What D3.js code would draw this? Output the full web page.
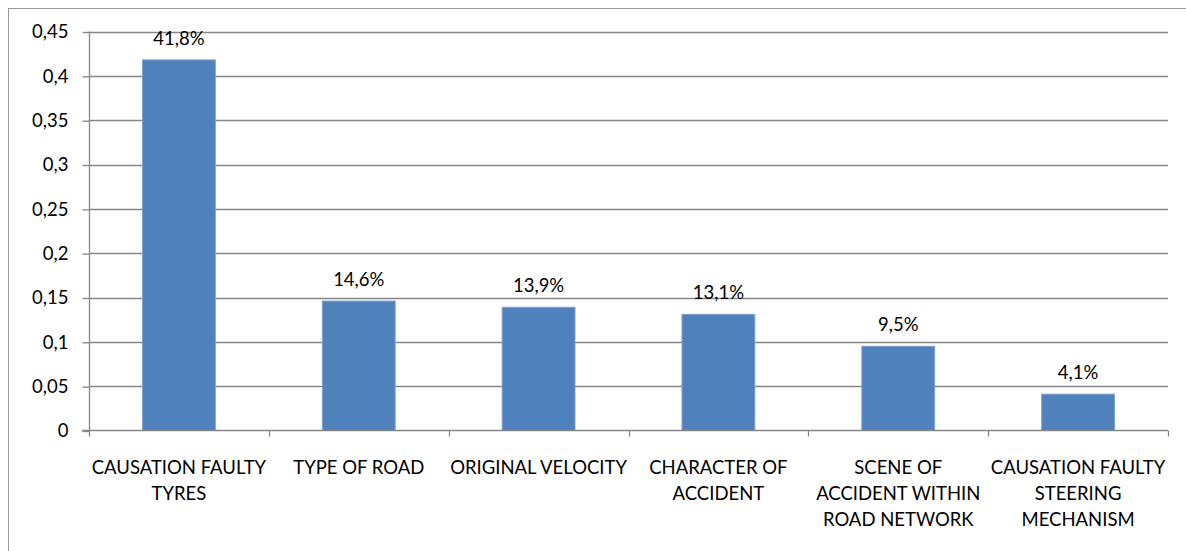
<!DOCTYPE html>
<html><head><meta charset="utf-8">
<script src="https://cdn.jsdelivr.net/npm/d3@7"></script>
<style>body{margin:0;background:#fff}svg{display:block}text{font-family:Lato,"Open Sans",sans-serif;fill:#000}</style>
</head><body><svg id="c" width="1186" height="551"></svg>
<script>
const categories = [
  ["CAUSATION FAULTY","TYRES"],
  ["TYPE OF ROAD"],
  ["ORIGINAL VELOCITY"],
  ["CHARACTER OF","ACCIDENT"],
  ["SCENE OF","ACCIDENT WITHIN","ROAD NETWORK"],
  ["CAUSATION FAULTY","STEERING","MECHANISM"]
];
const values = [0.418, 0.146, 0.139, 0.131, 0.095, 0.041];
const valueLabels = ["41,8%","14,6%","13,9%","13,1%","9,5%","4,1%"];
const yTicks = [0,0.05,0.1,0.15,0.2,0.25,0.3,0.35,0.4,0.45];
const yTickLabels = ["0","0,05","0,1","0,15","0,2","0,25","0,3","0,35","0,4","0,45"];

const FS = "18.5px";
const svg = d3.select("#c");
const L = 89, R = 1168, T = 31.5, B = 430.5;
svg.append("rect").attr("x",8.5).attr("y",8.5).attr("width",1200).attr("height",600)
  .attr("fill","none").attr("stroke","#9a9a9a").attr("stroke-width",1);

const x = d3.scaleBand().domain(d3.range(categories.length)).range([L,R]).paddingInner(0).paddingOuter(0);
const y = d3.scaleLinear().domain([0,0.45]).range([B,T]);

// gridlines
svg.append("g").selectAll("line").data(yTicks.filter(d=>d>0)).join("line")
  .attr("x1",L).attr("x2",R).attr("y1",d=>Math.round(y(d))+0.5).attr("y2",d=>Math.round(y(d))+0.5)
  .attr("stroke","#868686").attr("stroke-width",1.3);

// y axis
const yAxis = d3.axisLeft(y).tickValues(yTicks).tickSize(7).tickPadding(14)
  .tickFormat((d,i)=>yTickLabels[i]);
const gy = svg.append("g").attr("transform",`translate(${L+0.5},0.5)`).call(yAxis);
gy.select(".domain").attr("stroke","#868686").attr("stroke-width",1.3).attr("d",`M0,${T-0.5}V${B}`);
gy.selectAll(".tick line").attr("stroke","#868686").attr("stroke-width",1.3);
gy.selectAll(".tick text").style("font-family","Lato,sans-serif").style("font-size",FS).attr("fill","#000");

// bars
const bw = x.bandwidth()*0.405;
svg.append("g").selectAll("rect").data(values).join("rect")
  .attr("x",(d,i)=>x(i)+x.bandwidth()/2-bw/2).attr("width",bw)
  .attr("y",d=>y(d)).attr("height",d=>B-y(d))
  .attr("fill","#4F81BD").attr("stroke","#7fa3d0").attr("stroke-width",1);

// x axis
const xAxisG = svg.append("g").attr("transform",`translate(0,${B})`);
xAxisG.append("line").attr("x1",L-7).attr("x2",R).attr("y1",0).attr("y2",0).attr("stroke","#868686").attr("stroke-width",1.3);
xAxisG.selectAll("line.t").data(d3.range(categories.length+1)).join("line").attr("class","t")
  .attr("x1",i=>Math.round(i<categories.length?x(i):R)+0.5).attr("x2",i=>Math.round(i<categories.length?x(i):R)+0.5)
  .attr("y1",0).attr("y2",6).attr("stroke","#868686").attr("stroke-width",1.3);

// category labels
const cl = svg.append("g").selectAll("text").data(categories).join("text")
  .attr("text-anchor","middle").style("font-size",FS)
  .attr("x",(d,i)=>x(i)+x.bandwidth()/2).attr("y",474);
cl.selectAll("tspan").data(d=>d).join("tspan")
  .attr("x",function(){return this.parentNode.getAttribute("x");})
  .attr("dy",(d,i)=>i===0?0:26).text(d=>d);

// value labels
svg.append("g").selectAll("text").data(values).join("text")
  .attr("text-anchor","middle").style("font-size",FS)
  .attr("x",(d,i)=>x(i)+x.bandwidth()/2).attr("y",d=>y(d)-15)
  .text((d,i)=>valueLabels[i]);
</script></body></html>
